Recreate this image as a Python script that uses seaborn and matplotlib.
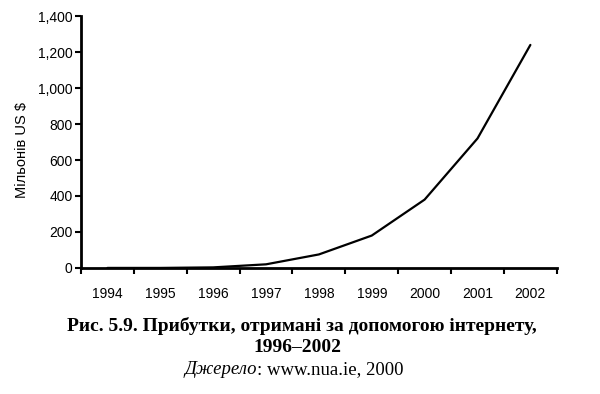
import matplotlib
matplotlib.use("Agg")
import matplotlib.pyplot as plt
import seaborn as sns
import pandas as pd
from matplotlib.ticker import FuncFormatter

years = ["1994", "1995", "1996", "1997", "1998", "1999", "2000", "2001", "2002"]
revenue = [0, 0, 3, 20, 75, 180, 380, 720, 1240]
y_ticks = [0, 200, 400, 600, 800, 1000, 1200, 1400]
y_label = "Мільонів US $"
caption1 = "Рис. 5.9. Прибутки, отримані за допомогою інтернету,"
caption2 = "1996–2002"
source_italic = "Джерело"
source_rest = ": www.nua.ie, 2000"

sns.set_theme(style="white")
plt.rcParams["font.family"] = ["Liberation Sans", "DejaVu Sans"]

df = pd.DataFrame({"year": years, "value": revenue})

fig = plt.figure(figsize=(6.0, 3.94), dpi=100)
ax = fig.add_axes([0.135, 0.32, 0.793, 0.639])
sns.lineplot(data=df, x="year", y="value", ax=ax, color="black", linewidth=1.6, sort=False)

n = len(years)
ax.set_xlim(-0.5, n - 0.5)
ax.set_ylim(0, 1400)
ax.set_xticks([i - 0.5 for i in range(n + 1)])
ax.set_xticklabels([""] * (n + 1))
ax.set_xticks(list(range(n)), minor=True)
ax.set_xticklabels(years, minor=True, fontsize=10)
ax.tick_params(axis="x", which="major", direction="out", length=4, width=1.5, color="black", bottom=True)
ax.tick_params(axis="x", which="minor", length=0, pad=14, bottom=True)
ax.set_yticks(y_ticks)
ax.yaxis.set_major_formatter(FuncFormatter(lambda v, p: f"{int(v):,}"))
ax.tick_params(axis="y", direction="out", length=4, width=1.5, color="black", labelsize=10, left=True, pad=2)
for lab in ax.get_xticklabels(minor=True) + ax.get_yticklabels():
    lab.set_color("black")
ax.set_xlabel("")
ax.set_ylabel(y_label, fontsize=10.5, color="black")
ax.yaxis.set_label_coords(-0.11, 0.47)
for s in ["top", "right"]:
    ax.spines[s].set_visible(False)
for s in ["left", "bottom"]:
    ax.spines[s].set_color("black")
    ax.spines[s].set_linewidth(2)

serif = ["Liberation Serif", "DejaVu Serif"]
fs = 14
fig.text(0.503, 0.172, caption1, ha="center", va="center", fontsize=fs,
         fontweight="bold", family=serif, color="black")
fig.text(0.495, 0.118, caption2, ha="center", va="center", fontsize=fs,
         fontweight="bold", family=serif, color="black")
t1 = fig.text(0.5, 0.063, source_italic, ha="left", va="center", fontsize=fs - 0.5,
              style="italic", family=serif, color="black")
t2 = fig.text(0.5, 0.063, source_rest, ha="left", va="center", fontsize=fs - 0.5,
              family=serif, color="black")
fig.canvas.draw()
r = fig.canvas.get_renderer()
w1 = t1.get_window_extent(r).width
w2 = t2.get_window_extent(r).width
x0 = 0.49 * 600 - (w1 + w2) / 2
t1.set_x(x0 / 600)
t2.set_x((x0 + w1) / 600)

fig.savefig("out.png", dpi=100)
